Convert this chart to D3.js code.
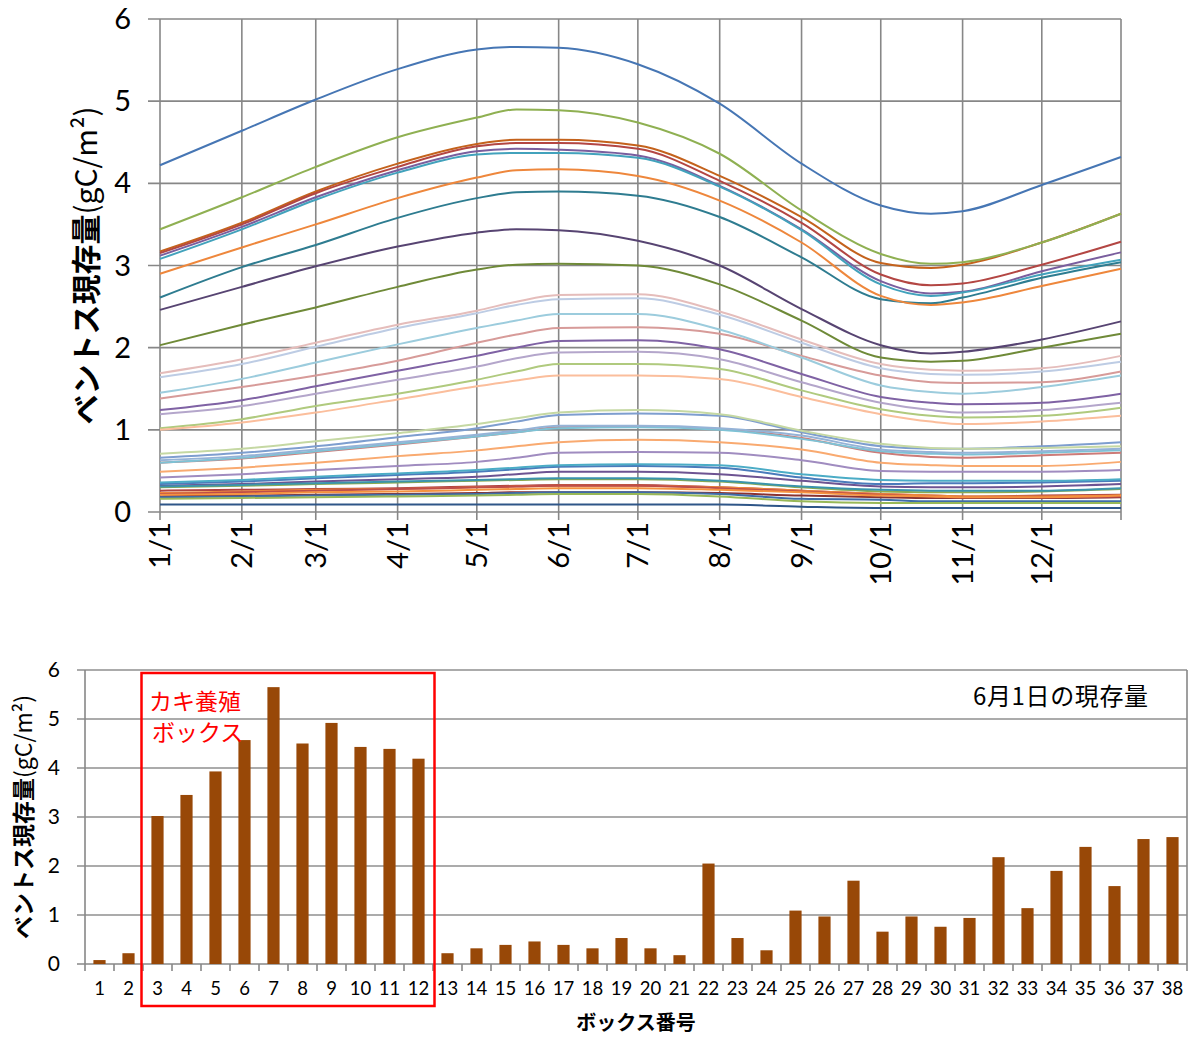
<!DOCTYPE html>
<html>
<head>
<meta charset="utf-8">
<script src="https://cdn.jsdelivr.net/npm/d3@7"></script>
<style>
  html, body { margin: 0; padding: 0; background: #ffffff; }
  svg { display: block; }
  text { font-family: "Noto Sans CJK JP", "Noto Sans", sans-serif; }
  text.num { font-family: Lato, "Noto Sans", sans-serif; }
</style>
</head>
<body>
<svg id="chart" width="1192" height="1038"></svg>
<script>
// ---------------- DATA ----------------
const dateLabels = ["1/1","2/1","3/1","4/1","5/1","5/16","6/1","7/1","8/1","9/1","10/1","10/20","11/1","12/1","12/31"];
const monthTicks = ["1/1","2/1","3/1","4/1","5/1","6/1","7/1","8/1","9/1","10/1","11/1","12/1"];
const yTicks = [0, 1, 2, 3, 4, 5, 6];

const boxes = [1,2,3,4,5,6,7,8,9,10,11,12,13,14,15,16,17,18,19,20,21,22,23,24,25,26,27,28,29,30,31,32,33,34,35,36,37,38];

// seasonal biomass per box (gC/m2), read at the dates in dateLabels
const box1  = [0.09,0.09,0.09,0.09,0.09,0.09,0.09,0.09,0.09,0.065,0.05,0.05,0.05,0.05,0.05];
const box2  = [0.19,0.20,0.21,0.22,0.23,0.24,0.24,0.24,0.23,0.20,0.18,0.17,0.17,0.17,0.18];
const box3  = [2.03,2.28,2.49,2.74,2.95,3.01,3.02,3.00,2.77,2.33,1.88,1.83,1.84,2.00,2.17];
const box4  = [2.46,2.74,2.99,3.23,3.40,3.44,3.43,3.30,3.00,2.47,2.03,1.93,1.95,2.10,2.32];
const box5  = [2.61,2.98,3.25,3.58,3.82,3.89,3.90,3.85,3.59,3.10,2.59,2.54,2.61,2.85,3.04];
const box6  = [3.17,3.52,3.90,4.24,4.48,4.53,4.53,4.46,4.09,3.59,3.03,2.97,3.01,3.28,3.63];
const box7  = [4.22,4.64,5.02,5.39,5.63,5.66,5.65,5.45,4.97,4.24,3.73,3.63,3.66,3.98,4.32];
const box8  = [3.15,3.50,3.88,4.20,4.45,4.49,4.49,4.42,4.03,3.52,2.89,2.76,2.78,3.01,3.29];
const box9  = [3.44,3.83,4.20,4.56,4.80,4.90,4.89,4.74,4.36,3.67,3.14,3.02,3.04,3.28,3.63];
const box10 = [3.12,3.47,3.83,4.16,4.39,4.42,4.41,4.34,3.97,3.44,2.81,2.66,2.68,2.93,3.16];
const box11 = [3.08,3.44,3.80,4.13,4.35,4.37,4.37,4.31,3.96,3.43,2.77,2.63,2.67,2.89,3.07];
const box12 = [2.90,3.22,3.50,3.82,4.07,4.16,4.17,4.09,3.79,3.28,2.63,2.52,2.55,2.75,2.96];
const box13 = [0.18,0.19,0.20,0.21,0.22,0.23,0.24,0.24,0.22,0.16,0.15,0.13,0.13,0.13,0.13];
const box14 = [0.26,0.27,0.28,0.29,0.31,0.32,0.33,0.33,0.30,0.26,0.22,0.20,0.19,0.20,0.21];
const box15 = [0.30,0.32,0.34,0.36,0.38,0.39,0.40,0.40,0.37,0.30,0.25,0.24,0.24,0.25,0.28];
const box16 = [0.32,0.34,0.37,0.40,0.43,0.46,0.49,0.49,0.46,0.38,0.31,0.30,0.30,0.31,0.34];
const box17 = [0.31,0.33,0.35,0.37,0.39,0.40,0.41,0.41,0.38,0.31,0.27,0.26,0.26,0.26,0.29];
const box18 = [0.23,0.25,0.27,0.28,0.30,0.31,0.32,0.32,0.30,0.26,0.22,0.20,0.19,0.19,0.20];
const box19 = [0.34,0.37,0.41,0.45,0.49,0.52,0.55,0.56,0.54,0.42,0.34,0.35,0.35,0.36,0.38];
const box20 = [0.22,0.24,0.26,0.28,0.30,0.31,0.32,0.32,0.29,0.25,0.21,0.19,0.18,0.18,0.19];
const box21 = [0.16,0.17,0.18,0.19,0.20,0.21,0.22,0.22,0.19,0.13,0.11,0.11,0.11,0.11,0.11];
const box22 = [1.24,1.36,1.53,1.72,1.90,2.00,2.08,2.09,1.98,1.68,1.40,1.33,1.31,1.33,1.44];
const box23 = [0.36,0.39,0.43,0.47,0.51,0.54,0.57,0.58,0.57,0.46,0.39,0.38,0.38,0.38,0.40];
const box24 = [0.21,0.22,0.24,0.25,0.27,0.28,0.29,0.29,0.27,0.24,0.20,0.19,0.18,0.18,0.20];
const box25 = [0.66,0.72,0.80,0.91,1.02,1.10,1.18,1.20,1.17,0.97,0.80,0.77,0.77,0.80,0.85];
const box26 = [0.60,0.65,0.73,0.82,0.92,0.97,1.03,1.04,1.01,0.90,0.72,0.67,0.66,0.69,0.72];
const box27 = [1.02,1.13,1.29,1.44,1.61,1.71,1.80,1.80,1.74,1.48,1.25,1.17,1.15,1.17,1.27];
const box28 = [0.42,0.46,0.51,0.56,0.61,0.66,0.72,0.73,0.72,0.63,0.50,0.49,0.49,0.49,0.51];
const box29 = [0.60,0.66,0.74,0.83,0.92,0.97,1.02,1.03,1.00,0.89,0.74,0.71,0.70,0.72,0.75];
const box30 = [0.49,0.54,0.60,0.68,0.75,0.80,0.85,0.88,0.85,0.76,0.60,0.57,0.56,0.56,0.61];
const box31 = [0.63,0.68,0.76,0.85,0.94,0.99,1.05,1.05,1.02,0.93,0.76,0.73,0.72,0.74,0.77];
const box32 = [1.38,1.52,1.66,1.84,2.06,2.16,2.24,2.25,2.17,1.90,1.66,1.58,1.57,1.58,1.71];
const box33 = [0.71,0.77,0.86,0.96,1.07,1.14,1.21,1.24,1.19,0.99,0.83,0.78,0.77,0.78,0.80];
const box34 = [1.19,1.29,1.44,1.61,1.77,1.87,1.94,1.95,1.86,1.58,1.33,1.24,1.21,1.24,1.33];
const box35 = [1.45,1.62,1.82,2.04,2.24,2.33,2.41,2.41,2.22,1.88,1.54,1.46,1.44,1.52,1.66];
const box36 = [1.00,1.09,1.21,1.37,1.53,1.60,1.66,1.66,1.62,1.40,1.19,1.10,1.07,1.10,1.17];
const box37 = [1.64,1.80,2.01,2.24,2.42,2.52,2.59,2.60,2.40,2.06,1.75,1.68,1.67,1.71,1.83];
const box38 = [1.69,1.86,2.06,2.28,2.45,2.56,2.64,2.65,2.44,2.10,1.80,1.73,1.72,1.75,1.90];

const seriesValues = [box1,box2,box3,box4,box5,box6,box7,box8,box9,box10,box11,box12,box13,box14,box15,box16,box17,box18,box19,box20,
  box21,box22,box23,box24,box25,box26,box27,box28,box29,box30,box31,box32,box33,box34,box35,box36,box37,box38];

// June 1 biomass per box (bar chart)
const june1Values = [0.08,0.22,3.02,3.45,3.93,4.57,5.65,4.50,4.92,4.43,4.39,4.19,0.22,0.32,0.39,0.46,0.39,0.32,0.53,0.32,
  0.18,2.05,0.53,0.28,1.09,0.97,1.70,0.66,0.97,0.76,0.94,2.18,1.14,1.90,2.39,1.59,2.55,2.59];

// ---------------- STYLES ----------------
const lineColors = [
  "#2F5688","#8A3230","#6F8A38","#574472","#2E7C90","#C4621C",
  "#4676B4","#B34643","#8FB052","#7A5E9E","#42A2BC","#EE873C",
  "#3E6CA8","#B04441","#8CAB4F","#6D5392","#3B94AC","#F08A3A",
  "#4A7BBB","#BE4D4A","#98B857","#7F62A4","#4BACC6","#F5923F",
  "#7E9ECF","#CD7B78","#B0CA7E","#A08CC0","#7EC2D5","#F9AA70",
  "#95B3D7","#D79B99","#C5D8A3","#B4A6CB","#9CCCDD","#FBBE9C",
  "#BDCCE4","#E5BDBB"
];
const gridColor = "#878787";
const barColor = "#984807";

const svg = d3.select("#chart");
const parseMD = s => { const [m, d] = s.split("/").map(Number); return new Date(2013, m - 1, d); };

// ================= TOP: line chart =================
const topArea = { left: 160, right: 1121, top: 19, bottom: 512 };
const xT = d3.scaleTime().domain([new Date(2013,0,1), new Date(2013,11,31)]).range([topArea.left, topArea.right]);
const yT = d3.scaleLinear().domain([0, 6]).range([topArea.bottom, topArea.top]);

const gT = svg.append("g");
gT.selectAll("line.hg").data(yTicks).join("line")
  .attr("x1", topArea.left - 12).attr("x2", topArea.right)
  .attr("y1", d => yT(d)).attr("y2", d => yT(d))
  .attr("stroke", gridColor).attr("stroke-width", 1.6);
const vDates = monthTicks.map(parseMD).concat([new Date(2013,11,31)]);
gT.selectAll("line.vg").data(vDates).join("line")
  .attr("x1", d => xT(d)).attr("x2", d => xT(d))
  .attr("y1", topArea.top).attr("y2", topArea.bottom + 8)
  .attr("stroke", gridColor).attr("stroke-width", 1.6);

gT.selectAll("text.yl").data(yTicks).join("text")
  .attr("class", "num")
  .attr("x", 131).attr("y", d => yT(d))
  .attr("dy", "0.35em").attr("text-anchor", "end")
  .attr("font-size", 29).attr("fill", "#000")
  .text(d => d);
gT.selectAll("text.xl").data(monthTicks).join("text")
  .attr("class", "num")
  .attr("transform", d => `translate(${xT(parseMD(d))},${topArea.bottom + 10}) rotate(-90)`)
  .attr("text-anchor", "end").attr("dy", "0.36em")
  .attr("font-size", 29).attr("fill", "#000")
  .text(d => d);

const lineGen = d3.line()
  .x((d, i) => xT(parseMD(dateLabels[i])))
  .y(d => yT(d))
  .curve(d3.curveMonotoneX);
gT.append("g").selectAll("path").data(seriesValues).join("path")
  .attr("d", d => lineGen(d))
  .attr("fill", "none")
  .attr("stroke", (d, i) => lineColors[i])
  .attr("stroke-width", 2);

const tTitle = gT.append("text")
  .attr("transform", `translate(97,${(topArea.top + topArea.bottom) / 2}) rotate(-90)`)
  .attr("text-anchor", "middle").attr("font-size", 30).attr("fill", "#000");
tTitle.append("tspan").attr("font-weight", "bold").text("ベントス現存量");
tTitle.append("tspan").text("(gC/m²)");

// ================= BOTTOM: bar chart =================
const botArea = { left: 85, right: 1187, top: 670, bottom: 964 };
const xB = d3.scaleBand().domain(boxes).range([botArea.left, botArea.right]).paddingInner(0.58).paddingOuter(0.29);
const yB = d3.scaleLinear().domain([0, 6]).range([botArea.bottom, botArea.top]);
const gB = svg.append("g");

gB.selectAll("line.hg").data(yTicks).join("line")
  .attr("x1", botArea.left - 8).attr("x2", botArea.right)
  .attr("y1", d => yB(d)).attr("y2", d => yB(d))
  .attr("stroke", d => d === 0 ? gridColor : "#8f8f8f").attr("stroke-width", 1.6);
gB.append("line").attr("x1", botArea.left).attr("x2", botArea.left).attr("y1", botArea.top).attr("y2", botArea.bottom)
  .attr("stroke", gridColor).attr("stroke-width", 1.6);
gB.append("line").attr("x1", botArea.right).attr("x2", botArea.right).attr("y1", botArea.top).attr("y2", botArea.bottom)
  .attr("stroke", gridColor).attr("stroke-width", 1.6);
const step = xB.step();
const bounds = d3.range(boxes.length + 1).map(i => botArea.left + i * step);
gB.selectAll("line.xt").data(bounds).join("line")
  .attr("x1", d => d).attr("x2", d => d)
  .attr("y1", botArea.bottom).attr("y2", botArea.bottom + 7)
  .attr("stroke", gridColor).attr("stroke-width", 1.6);

gB.selectAll("rect.bar").data(june1Values).join("rect")
  .attr("x", (d, i) => xB(boxes[i]))
  .attr("width", xB.bandwidth())
  .attr("y", d => yB(d))
  .attr("height", d => yB(0) - yB(d))
  .attr("fill", barColor);

gB.selectAll("text.yl").data(yTicks).join("text")
  .attr("class", "num")
  .attr("x", 60).attr("y", d => yB(d)).attr("dy", "0.35em")
  .attr("text-anchor", "end").attr("font-size", 21).attr("fill", "#000")
  .text(d => d);
gB.selectAll("text.xl").data(boxes).join("text")
  .attr("class", "num")
  .attr("x", d => xB(d) + xB.bandwidth() / 2).attr("y", 995)
  .attr("text-anchor", "middle").attr("font-size", 18.5).attr("fill", "#000")
  .text(d => d);

gB.append("text").attr("x", (botArea.left + botArea.right) / 2).attr("y", 1030)
  .attr("text-anchor", "middle").attr("font-size", 20).attr("font-weight", "bold").attr("fill", "#000")
  .text("ボックス番号");
const bTitle = gB.append("text")
  .attr("transform", `translate(32,${(botArea.top + botArea.bottom) / 2}) rotate(-90)`)
  .attr("text-anchor", "middle").attr("font-size", 23).attr("fill", "#000");
bTitle.append("tspan").attr("font-weight", "bold").text("ベントス現存量");
bTitle.append("tspan").text("(gC/m²)");

const oysterBoxes = [3, 12];
const gap = (step - xB.bandwidth()) / 2;
const rx0 = xB(oysterBoxes[0]) - gap - 1.5;
const rx1 = xB(oysterBoxes[1]) + xB.bandwidth() + gap + 1.5;
gB.append("rect")
  .attr("x", rx0).attr("y", 673)
  .attr("width", rx1 - rx0).attr("height", 333)
  .attr("fill", "none").attr("stroke", "#FF0000").attr("stroke-width", 2.5);
gB.append("text").attr("x", 149).attr("y", 710).attr("font-size", 23).attr("fill", "#FF0000").text("カキ養殖");
gB.append("text").attr("x", 152).attr("y", 741).attr("font-size", 23).attr("fill", "#FF0000").text("ボックス");

gB.append("text").attr("x", 973).attr("y", 705).attr("font-size", 24).attr("fill", "#000")
  .attr("textLength", 175).attr("lengthAdjust", "spacing")
  .text("6月1日の現存量");
</script>
</body>
</html>
